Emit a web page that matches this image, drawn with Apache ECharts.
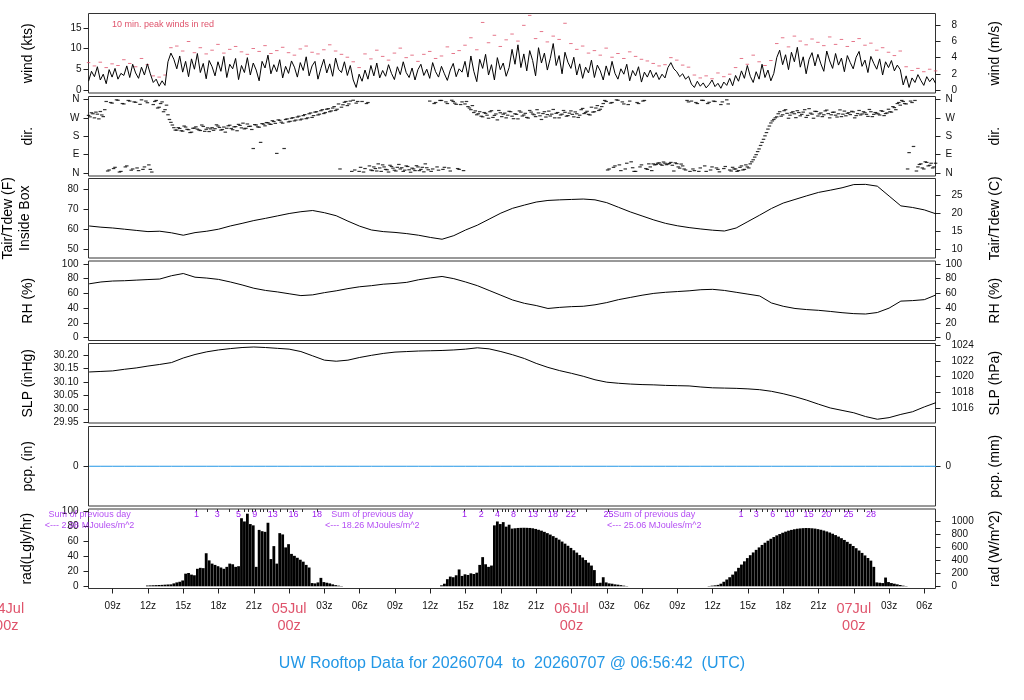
<!DOCTYPE html>
<html>
<head>
<meta charset="utf-8">
<title>UW Rooftop Data</title>
<script src="https://cdn.jsdelivr.net/npm/echarts@6/dist/echarts.min.js"></script>
<style>
  html, body { margin: 0; padding: 0; background: #fff; }
  #chart { width: 1024px; height: 700px; }
</style>
</head>
<body>
<div id="chart"></div>
<script>
// x is hours from 05Jul 00z; the plot runs 04Jul 06:56:42 .. 07Jul 06:56:42
var tStart = -17.055, tEnd = 54.945;

// wind speed (kts), every 15 min
var windStart = -17.05, windStep = 0.25;
var windKts = [
  2.1, 4.5, 3.2, 5.6, 2.4, 3.8, 1.5, 4.9, 3.1, 5.2, 2.6, 4.0,
  3.5, 5.8, 3.0, 6.2, 4.1, 2.8, 5.5, 3.6, 6.3, 3.9,
  1.8, 2.6, 0.9, 2.2, 1.1,
  6.8, 8.9, 7.4,
  5.1, 8.2, 4.3, 6.9, 3.2, 7.5, 5.0, 8.8, 4.2, 6.4, 2.7, 7.1, 5.6, 3.4, 6.8, 4.5, 8.1, 3.0, 6.2, 5.1,
  7.6, 2.5, 5.9, 4.2, 7.8, 3.6, 6.5, 4.8, 2.2, 6.9, 5.3, 8.4, 3.9, 6.1, 4.4, 7.3, 2.9, 5.7, 4.0, 7.0,
  5.5, 3.1, 6.6, 4.7, 8.0, 3.4, 5.8, 6.9, 2.6, 5.2, 7.4, 4.1, 6.3, 3.3, 7.7, 5.0, 4.2, 6.8, 3.5, 5.9,
  2.4, 0.6, 3.8, 2.1,
  4.8, 2.6, 5.9, 3.4, 6.5, 2.9, 4.7, 3.3, 6.1, 4.0, 2.5, 5.6, 3.7, 6.8, 4.2, 3.0, 5.3, 2.4, 4.9, 6.2,
  3.5, 5.0, 2.8, 6.6, 4.4, 3.1, 5.7, 3.9, 2.3, 4.8, 6.4, 3.2, 5.1, 4.3,
  6.9, 3.1, 8.2, 4.5, 2.0, 7.4, 5.2, 8.6, 3.6, 6.1, 2.4, 7.8, 4.9, 6.5, 3.3, 5.4,
  9.8, 6.2, 10.9, 5.4, 8.7, 4.6, 9.5, 7.1, 3.4, 10.2, 6.5, 8.9, 4.8, 7.6, 11.2, 5.9, 8.3, 3.9, 9.1, 6.7,
  5.2, 7.9, 3.6, 6.3, 2.8, 5.5, 4.1, 7.2, 3.0, 6.0, 4.6, 2.4, 5.8, 3.5, 6.9, 4.0, 2.6, 5.1, 3.8, 6.2,
  2.2, 4.7, 3.4, 5.6, 1.9, 4.3, 3.1, 4.8,
  3.0, 4.2, 2.5, 3.8, 2.9, 5.4, 6.6, 5.1, 4.4, 3.2, 3.9, 2.6, 3.3,
  1.4, 0.6, 2.1, 0.9, 1.7, 0.5, 1.3, 2.4, 0.8, 1.6, 0.4, 1.9, 1.1, 2.8, 1.0,
  3.5, 2.1, 4.6, 2.8, 5.9, 3.3, 1.8, 4.4, 2.6, 6.2, 3.0, 4.8, 2.2, 4.0,
  7.8, 9.6, 6.1, 8.5, 4.9, 9.1, 6.8, 10.3, 5.5, 8.0, 3.9, 7.4, 9.0, 5.8, 8.6, 6.3, 4.5, 9.4, 7.0, 5.2,
  8.8, 6.0, 7.7, 4.4, 8.3, 6.6, 5.1, 7.9, 9.3, 5.7, 7.2, 4.2, 8.1, 6.4, 5.0, 7.5, 3.6, 6.8, 5.4, 7.1,
  4.6, 6.0, 4.9,
  1.2, 3.4, 0.6, 2.9, 1.8, 3.7, 2.3, 1.1, 3.2, 2.0, 2.9, 1.6
];

// 10 min. peak winds (kts), every 30 min
var peakStart = -17.05, peakStep = 0.5;
var peakKts = [
  6.6, 5.8, 6.7, 5.4, 6.3, 5.9,
  7.3, 6.4, 5.6, 7.6, 6.1,
  3.4, 3.1, 3.6,
  10.2,
  10.6, 9.4, 11.7, 9.0, 10.2, 8.7, 9.6, 11.0, 8.9, 9.8, 10.5, 9.2, 8.6, 10.0, 9.3,
  10.7, 8.8, 9.5, 10.3, 9.0, 8.4, 9.9, 10.6, 9.1, 8.7, 9.7, 10.9, 9.4, 8.6, 7.9,
  6.8, 5.4,
  8.7, 7.5, 9.6, 8.1, 7.2, 8.9, 10.1, 7.8, 8.4, 6.9, 8.6, 9.3, 7.6, 8.2, 10.4, 8.8, 9.5,
  10.8, 12.6, 9.7, 16.3, 11.4, 13.2, 10.5, 12.1,
  13.5, 11.8, 15.6, 18.0, 12.4, 14.1, 11.6, 13.0, 12.2, 16.1,
  11.2, 9.8, 10.6, 8.9, 9.5, 8.4, 10.1, 7.9, 8.8, 7.6, 9.2, 8.1, 7.4, 7.0,
  6.4, 5.8, 6.1, 7.8, 7.2, 6.0, 5.5,
  3.6, 2.9, 3.4, 2.7, 4.1, 3.2, 3.8,
  5.4, 7.6, 6.2, 8.4, 6.8, 5.9, 7.1,
  11.2, 12.6, 10.4, 13.0, 11.8, 10.9, 12.3, 11.5, 10.7, 12.8, 11.0, 12.2, 10.5, 11.7, 12.4, 10.8,
  11.3, 9.6, 10.2, 9.1, 8.3, 9.4,
  5.6, 4.7, 5.2, 4.4, 5.0, 4.6
];

// wind direction (deg), two samples per 15 min
var dirStart = -17.05, dirStep = 0.25;
var dirA = [
  282, 295, 270, 288, 301, 276,
  350, 15, 342, 28, 356, 8, 338, 35, 352, 20, 346, 12, 358, 30, 344, 18,
  335, 355, 322, 348, 310,
  285, 248, 222,
  210, 218, 205, 225, 212, 200, 220, 215, 208, 228, 214, 203, 222, 217, 230, 210, 225, 219, 234, 212,
  227, 238, 221, 216, 240, 229, 120, 235, 224, 242, 231,
  246, 238, 252, 96, 258, 244, 262, 250, 268, 255, 274, 260, 281, 266, 290, 272, 298, 284, 305, 291,
  312, 300, 318, 306, 338, 322, 346, 330, 352,
  356, 342, 8, 350, 22, 345, 15, 30, 10, 25, 40, 18, 5, 32, 14, 28, 20, 8, 35, 16,
  24, 12, 30, 18, 6, 26, 352, 20, 345, 14, 355, 28, 340, 10, 350, 336, 18, 348,
  338, 325, 310, 296, 285, 300, 275, 292, 268, 305, 282, 260, 295, 288, 270, 302, 278, 290, 265, 298,
  284, 272, 306, 289, 276, 294, 262, 300, 286, 279, 311, 292, 270, 288, 297, 281, 304, 275, 290, 283,
  316, 296, 287, 322, 300, 330, 312, 340,
  350, 20, 345, 35, 356, 12, 338, 48, 352, 26, 8, 340, 40, 355, 18, 30,
  45, 42, 50, 38, 48, 44, 52, 10, 46, 24, 35, 15, 348,
  352, 12, 340, 25, 355, 8, 346, 30, 350, 18, 335, 22, 358, 15, 28,
  20, 12, 35, 18, 30, 45, 65, 90, 118, 150, 182, 215, 245, 262,
  275, 300, 285, 310, 268, 295, 290, 305, 280, 298, 272, 315, 288, 302, 279, 294, 285, 308, 270, 297,
  283, 290, 276, 303, 292, 286, 299, 281, 306, 289, 295, 277, 300, 287, 293, 284, 302, 291, 312, 298,
  320, 340, 332,
  350, 338, 100, 345, 355,
  30, 45, 20, 52, 38, 25, 48
];
var dirB = [
  275, 290, 298, 265, 284, 310,
  10, 345, 22, 358, 5, 340, 30, 355, 14, 348, 25, 336, 18, 352, 40, 5,
  350, 318, 340, 300, 332,
  262, 235, 210,
  222, 207, 230, 214, 198, 219, 226, 211, 235, 204, 221, 216, 209, 236, 223, 213, 200, 231, 218, 226,
  207, 233, 244, 219, 228, 213, 237, 226, 150, 239, 247,
  240, 256, 243, 260, 249, 120, 265, 253, 271, 259, 278, 264, 286, 270, 294, 281, 300, 288, 310, 296,
  315, 304, 325, 312, 20, 334, 350, 338, 8,
  15, 350, 28, 5, 340, 35, 12, 22, 45, 8, 30, 16, 38, 24, 10, 42, 26, 14, 32, 4,
  20, 36, 12, 28, 45, 16, 8, 340, 30, 355, 18, 348, 25, 356, 342, 22, 335, 12,
  350, 318, 330, 304, 290, 278, 296, 283, 300, 272, 289, 306, 276, 293, 283, 300, 266, 287, 304, 279,
  292, 269, 298, 285, 310, 280, 291, 274, 303, 288, 270, 296, 284, 306, 278, 293, 287, 299, 272, 310,
  291, 302, 284, 298, 318, 306, 325, 355,
  15, 342, 28, 358, 40, 348, 20, 335, 55, 8, 345, 30, 352, 22, 45, 12,
  40, 48, 43, 54, 41, 47, 38, 50, 30, 44, 20, 355, 8,
  20, 345, 8, 356, 35, 340, 15, 352, 25, 6, 348, 32, 338, 10, 20,
  8, 28, 15, 40, 25, 55, 78, 105, 135, 165, 198, 230, 255, 270,
  290, 278, 305, 292, 283, 300, 271, 296, 287, 310, 282, 293, 268, 301, 289, 276, 304, 291, 285, 298,
  274, 309, 288, 280, 295, 302, 270, 291, 284, 300, 287, 311, 276, 296, 289, 305, 281, 294, 300, 325,
  310, 345, 355,
  340, 20, 352, 130, 10,
  42, 25, 55, 35, 48, 30, 40
];

// hourly values from 04Jul 07z
var hourStart = -17, hourStep = 1;
var tairF = [
  61.6, 61.0, 60.6, 60.0, 59.4, 58.8, 59.0, 58.2, 57.0, 58.3, 59.0, 60.0, 61.6, 62.9, 64.3, 65.4, 66.6,
  67.8, 68.7, 69.3, 68.2, 66.7, 64.0, 61.5, 59.6, 58.8, 58.4, 57.8, 57.0, 55.9, 55.0, 56.8, 59.6, 62.0,
  65.0, 68.0, 70.4, 72.0, 73.5, 74.3, 74.6, 74.8, 75.0, 74.6, 73.2, 70.9, 68.6, 66.6, 64.6, 62.9, 61.7,
  60.8, 60.1, 59.5, 59.1, 60.6, 63.8, 67.0, 70.3, 73.0, 74.8, 76.6, 78.3, 79.4, 80.6, 82.2, 82.3, 81.4,
  76.5, 71.6, 70.8, 69.6, 67.6
];
var rhPct = [
  73.0, 75.5, 76.8, 77.2, 78.0, 78.8, 79.5, 84.0, 87.0, 82.0, 80.8, 79.0, 75.5, 71.5, 67.0, 64.0, 62.0,
  59.5, 57.0, 58.0, 61.0, 63.5, 66.5, 69.0, 70.5, 72.5, 73.5, 75.0, 78.5, 81.0, 83.0, 80.0, 75.5, 70.5,
  64.0, 57.5, 51.0, 46.5, 43.5, 39.5, 41.0, 42.0, 42.5, 44.5, 47.5, 51.5, 54.5, 57.5, 60.0, 61.5, 62.5,
  63.5, 65.0, 65.5, 64.0, 61.5, 59.0, 56.5, 47.0, 42.5, 39.5, 38.0, 37.0, 35.5, 33.8, 32.5, 32.0, 34.0,
  40.0, 49.5, 50.2, 51.5, 58.0
];
var slpInHg = [
  30.138, 30.140, 30.142, 30.148, 30.153, 30.160, 30.166, 30.173, 30.190, 30.203, 30.213, 30.220,
  30.225, 30.229, 30.231, 30.229, 30.226, 30.223, 30.214, 30.198, 30.182, 30.178, 30.182, 30.192,
  30.200, 30.207, 30.212, 30.214, 30.216, 30.217, 30.218, 30.220, 30.223, 30.228, 30.224, 30.214,
  30.202, 30.188, 30.170, 30.155, 30.143, 30.133, 30.122, 30.109, 30.100, 30.096, 30.093, 30.091,
  30.090, 30.088, 30.087, 30.086, 30.082, 30.079, 30.078, 30.077, 30.075, 30.072, 30.066, 30.057,
  30.046, 30.033, 30.018, 30.004, 29.995, 29.986, 29.972, 29.962, 29.968, 29.980, 29.990, 30.008,
  30.024
];
var pcpIn = [
  0, 0, 0, 0, 0, 0, 0, 0, 0, 0, 0, 0, 0, 0, 0, 0, 0, 0, 0, 0, 0, 0, 0, 0, 0,
  0, 0, 0, 0, 0, 0, 0, 0, 0, 0, 0, 0, 0, 0, 0, 0, 0, 0, 0, 0, 0, 0, 0, 0, 0,
  0, 0, 0, 0, 0, 0, 0, 0, 0, 0, 0, 0, 0, 0, 0, 0, 0, 0, 0, 0, 0, 0, 0
];

// solar radiation (W/m^2), every 15 min
var radStart = -17.05, radStep = 0.25;
var radWm2 = [
  0, 0, 0, 0, 0, 0, 0, 0, 0, 0, 0, 0, 0, 0, 0, 0, 0, 0, 0, 0,
  12, 14, 16, 18, 20, 22, 25, 28, 30, 45, 60, 70, 90, 195, 205, 180, 170, 270, 285, 280,
  510, 400, 350, 330, 310, 290, 270, 300, 350, 340, 300, 310, 1050, 1000, 1120, 960, 940, 300, 870, 850,
  840, 980, 420, 620, 350, 820, 800, 600, 650, 500, 470, 440, 410, 380, 330, 290, 50, 45, 60, 130,
  65, 55, 45, 30, 18, 10, 5, 0,
  0, 0, 0, 0, 0, 0, 0, 0, 0, 0, 0, 0, 0, 0, 0, 0, 0, 0, 0, 0, 0, 0, 0, 0, 0, 0, 0, 0, 0, 0, 0, 0,
  15, 40, 110, 150, 140, 170, 260, 160, 185, 175, 200, 190, 210, 330, 450, 340, 300, 320, 940, 1000,
  960, 990, 920, 950, 890, 895, 900, 902, 903, 902, 900, 895, 885, 872, 858, 840, 820, 798, 774, 748,
  720, 690, 658, 625, 592, 556, 520, 482, 444, 405, 365, 320, 250, 50, 55, 140, 60, 45, 40, 30,
  25, 18, 10, 4,
  0, 0, 0, 0, 0, 0, 0, 0, 0, 0, 0, 0, 0, 0, 0, 0, 0, 0, 0, 0, 0, 0, 0, 0, 0, 0, 0,
  5, 10, 15, 22, 40, 70, 105, 140, 180, 230, 285, 335, 385, 435, 480, 522, 562, 600, 638, 672,
  703, 733, 760, 785, 806, 826, 843, 858, 870, 880, 888, 893, 897, 899, 898, 895, 890, 882, 872, 860,
  846, 830, 811, 790, 767, 742, 715, 686, 655, 622, 588, 552, 515, 476, 437, 396, 300, 60, 55, 50,
  135, 65, 50, 40, 30, 20, 10, 4,
  0, 0, 0, 0, 0, 0, 0, 0, 0, 0
];

// hours where the day's running total crosses each MJ/m^2, and the numbers printed
var radTickHours = [
  -7.88, -6.95, -6.10, -5.08, -4.31, -3.80, -3.46, -3.17, -2.92, -2.47, -2.19, -1.85, -1.39, -0.77,
  -0.20, 0.37, 1.08, 2.36,
  14.91, 16.33, 17.37, 17.71, 18.09, 18.37, 18.65, 19.07, 19.40, 19.74, 20.07, 20.39, 20.72, 21.06,
  21.40, 21.74, 22.08, 22.42, 22.81, 23.19, 23.57, 23.95, 24.46, 25.26, 27.15,
  38.41, 39.20, 39.71, 40.18, 40.62, 41.10, 41.46, 41.82, 42.18, 42.54, 42.87, 43.19, 43.51, 43.84,
  44.16, 44.46, 44.76, 45.06, 45.37, 45.66, 46.05, 46.43, 46.80, 47.19, 47.56, 48.27, 48.87, 49.46
];
var radLabelHours = [
  -7.88, -6.10, -4.31, -2.92, -1.39, 0.37, 2.36,
  14.91, 16.33, 17.71, 19.07, 20.72, 22.42, 23.95, 27.15,
  38.41, 39.71, 41.10, 42.54, 44.16, 45.66, 47.56, 49.46
];
var radLabelText = [
  '1', '3', '5', '9', '13', '16', '18',
  '1', '2', '4', '8', '13', '18', '22', '25',
  '1', '3', '6', '10', '15', '20', '25', '28'
];
var sumHours = [-16.96, 7.06, 31.04];
var sumMJ = ['2.98', '18.26', '25.06'];

// bottom time axis
var hourTicks = [-15, -12, -9, -6, -3, 0, 3, 6, 9, 12, 15, 18, 21, 24, 27, 30, 33, 36, 39, 42, 45, 48, 51, 54];
var dayHours = [-24, 0, 24, 48];
var dayNames = ['04Jul', '05Jul', '06Jul', '07Jul'];
var dirTicks = [0, 90, 180, 270, 360];
var dirNames = ['N', 'E', 'S', 'W', 'N'];

var red = '#DF536B', blue = '#2297E6', purple = '#A020F0';
var font = 'Liberation Sans, Arial, Helvetica, sans-serif';
var tops = [13.5, 96.5, 178.5, 261, 343.5, 426.5, 509];
var panelH = 79.5;

function seq(start, step, vals) {
  return vals.map(function (v, i) { return [start + i * step, v]; });
}

function plain(v) { return String(v); }

function yAx(grid, pos, min, max, ticks, name, margin, extra) {
  var ax = {
    type: 'value', gridIndex: grid, position: pos, min: min, max: max,
    splitLine: { show: false },
    axisLine: { show: false, onZero: false },
    axisTick: { show: true, length: 5, customValues: ticks, lineStyle: { color: '#222' } },
    axisLabel: { customValues: ticks, margin: margin, fontSize: 10, color: '#111', fontFamily: font, formatter: plain },
    name: name, nameLocation: 'middle', nameRotate: 90, nameGap: 53,
    nameTextStyle: { fontSize: 14, color: '#000', fontFamily: font }
  };
  if (extra) {
    if (extra.formatter) ax.axisLabel.formatter = extra.formatter;
    if (extra.nameGap) ax.nameGap = extra.nameGap;
    if (extra.lineHeight) ax.nameTextStyle.lineHeight = extra.lineHeight;
  }
  return ax;
}

var ktsPerMs = 1.94384, hPaPerInHg = 33.8639, wPerLy = 11.622;
var windMin = -0.74, windMax = 18.46;
var tMinF = 45.67, tMaxF = 85.22;
var slpMin = 29.948, slpMax = 30.244;
var radMinW = -33.9, radMaxW = 1192.3;
var dirFmt = function (v) { return dirNames[dirTicks.indexOf(v)]; };

var yAxes = [
  yAx(0, 'left', windMin, windMax, [0, 5, 10, 15], 'wind (kts)', 7),
  yAx(0, 'right', windMin / ktsPerMs, windMax / ktsPerMs, [0, 2, 4, 6, 8], 'wind (m/s)', 16),
  yAx(1, 'left', -14.4, 374.4, dirTicks, 'dir.', 9, { formatter: dirFmt }),
  yAx(1, 'right', -14.4, 374.4, dirTicks, 'dir.', 10, { formatter: dirFmt }),
  yAx(2, 'left', tMinF, tMaxF, [50, 60, 70, 80], 'Tair/Tdew (F)\nInside Box', 10, { nameGap: 55, lineHeight: 17 }),
  yAx(2, 'right', (tMinF - 32) / 1.8, (tMaxF - 32) / 1.8, [10, 15, 20, 25], 'Tair/Tdew (C)', 16),
  yAx(3, 'left', -4, 104, [0, 20, 40, 60, 80, 100], 'RH (%)', 10),
  yAx(3, 'right', -4, 104, [0, 20, 40, 60, 80, 100], 'RH (%)', 10),
  yAx(4, 'left', slpMin, slpMax, [29.95, 30.00, 30.05, 30.10, 30.15, 30.20], 'SLP (inHg)', 10,
    { formatter: function (v) { return v.toFixed(2); } }),
  yAx(4, 'right', slpMin * hPaPerInHg, slpMax * hPaPerInHg, [1016, 1018, 1020, 1022, 1024], 'SLP (hPa)', 16),
  yAx(5, 'left', -1, 1, [0], 'pcp. (in)', 10),
  yAx(5, 'right', -25.4, 25.4, [0], 'pcp. (mm)', 10),
  yAx(6, 'left', radMinW / wPerLy, radMaxW / wPerLy, [0, 20, 40, 60, 80, 100], 'rad(Lgly/hr)', 10, { nameGap: 54 }),
  yAx(6, 'right', radMinW, radMaxW, [0, 200, 400, 600, 800, 1000], 'rad (W/m^2)', 16)
];

var xAxes = tops.map(function (t, k) {
  return { type: 'value', gridIndex: k, min: tStart, max: tEnd, show: false,
    axisLine: { onZero: false }, splitLine: { show: false } };
});
xAxes[6] = {
  type: 'value', gridIndex: 6, position: 'bottom', min: tStart, max: tEnd,
  splitLine: { show: false },
  axisLine: { show: false, onZero: false },
  axisTick: { show: true, length: 5, customValues: hourTicks, lineStyle: { color: '#222' } },
  axisLabel: {
    customValues: hourTicks, margin: 12.5, fontSize: 10, color: '#111', fontFamily: font,
    formatter: function (h) {
      var d = dayHours.indexOf(h);
      if (d >= 0) return '{day|' + dayNames[d] + '}\n{day|00z}';
      var hh = ((h % 24) + 24) % 24;
      return (hh < 10 ? '0' : '') + hh + 'z';
    },
    rich: { day: { color: red, fontSize: 14.5, lineHeight: 16.5, fontFamily: font, align: 'center' } }
  }
};
xAxes.push({
  type: 'value', gridIndex: 6, position: 'top', min: tStart, max: tEnd,
  splitLine: { show: false },
  axisLine: { show: false, onZero: false },
  axisTick: { show: true, inside: true, length: 3, customValues: radTickHours, lineStyle: { color: '#333' } },
  axisLabel: {
    inside: true, margin: 1.5, customValues: radLabelHours, fontSize: 9, color: purple, fontFamily: font,
    formatter: function (h) {
      for (var i = 0; i < radLabelHours.length; i++) {
        if (Math.abs(radLabelHours[i] - h) < 1e-6) return radLabelText[i];
      }
      return '';
    }
  }
});

var chart = echarts.init(document.getElementById('chart'), null, { renderer: 'canvas' });

chart.setOption({
  animation: false,
  backgroundColor: '#fff',
  textStyle: { fontFamily: font },
  title: [
    { text: '10 min. peak winds in red', left: 107, top: 15,
      textStyle: { fontSize: 9, fontWeight: 'normal', color: red, fontFamily: font } },
    { text: 'UW Rooftop Data for 20260704  to  20260707 @ 06:56:42  (UTC)', left: 'center', top: 651,
      textStyle: { fontSize: 16, fontWeight: 'normal', color: blue, fontFamily: font } }
  ],
  grid: tops.map(function (t) {
    return { left: 88.5, right: 88.5, top: t, height: panelH, show: true, borderColor: '#333', borderWidth: 1,
      containLabel: false, outerBoundsMode: 'none' };
  }),
  xAxis: xAxes,
  yAxis: yAxes,
  series: [
    { type: 'line', xAxisIndex: 0, yAxisIndex: 0, data: seq(windStart, windStep, windKts),
      symbol: 'none', lineStyle: { color: '#000', width: 1 } },
    { type: 'scatter', xAxisIndex: 0, yAxisIndex: 0, data: seq(peakStart, peakStep, peakKts),
      symbol: 'rect', symbolSize: [3.5, 1], itemStyle: { color: red } },
    { type: 'scatter', xAxisIndex: 1, yAxisIndex: 2,
      data: seq(dirStart, dirStep, dirA).concat(seq(dirStart + dirStep / 2, dirStep, dirB)),
      symbol: 'rect', symbolSize: [3.5, 1.2], itemStyle: { color: '#000' } },
    { type: 'line', xAxisIndex: 2, yAxisIndex: 4, data: seq(hourStart, hourStep, tairF),
      symbol: 'none', lineStyle: { color: '#000', width: 1 } },
    { type: 'line', xAxisIndex: 3, yAxisIndex: 6, data: seq(hourStart, hourStep, rhPct),
      symbol: 'none', lineStyle: { color: '#000', width: 1 } },
    { type: 'line', xAxisIndex: 4, yAxisIndex: 8, data: seq(hourStart, hourStep, slpInHg),
      symbol: 'none', lineStyle: { color: '#000', width: 1 } },
    { type: 'line', xAxisIndex: 5, yAxisIndex: 10, data: seq(hourStart, hourStep, pcpIn),
      symbol: 'none', lineStyle: { color: blue, width: 1 } },
    { type: 'bar', xAxisIndex: 6, yAxisIndex: 13, data: seq(radStart, radStep, radWm2),
      barWidth: 2.8, itemStyle: { color: '#000' } },
    { type: 'scatter', xAxisIndex: 6, yAxisIndex: 13, symbolSize: 0, clip: false,
      data: sumHours.map(function (h) { return [h, 1018]; }),
      label: {
        show: true, position: 'inside', color: purple, fontSize: 9, lineHeight: 10.7, fontFamily: font, align: 'center',
        formatter: function (p) { return 'Sum of previous day\n<--- ' + sumMJ[p.dataIndex] + ' MJoules/m^2'; }
      } }
  ]
});

// the 04Jul day label falls left of the plotted range
var x04 = chart.convertToPixel({ xAxisIndex: 6 }, dayHours[0]);
var yBase = chart.convertToPixel({ yAxisIndex: 13 }, radMinW);
chart.setOption({
  graphic: [{
    type: 'text', x: x04, y: yBase + 12.5,
    style: { text: dayNames[0] + '\n00z', fill: red, fontSize: 14.5, lineHeight: 16.5, fontFamily: font,
      align: 'center', verticalAlign: 'top' }
  }]
});
</script>
</body>
</html>
